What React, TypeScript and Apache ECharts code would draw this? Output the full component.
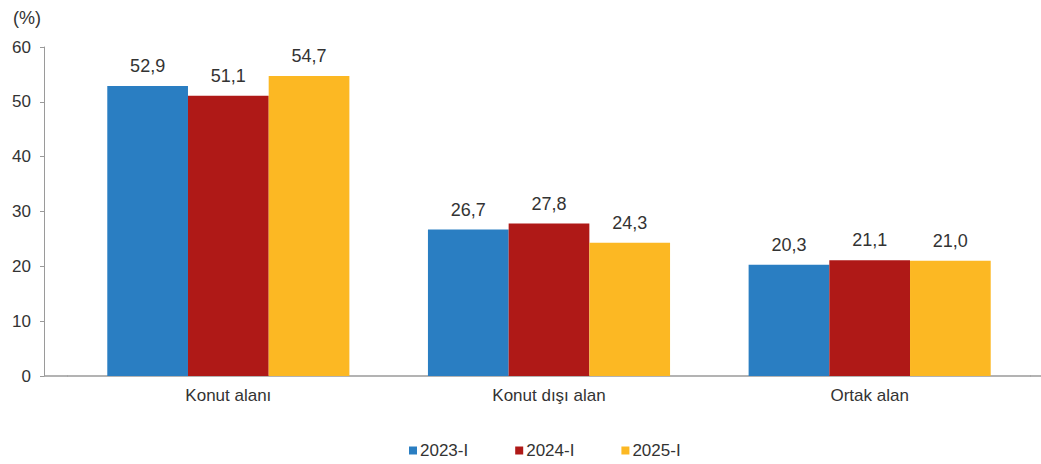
import React, { useEffect, useRef } from "react";
import * as echarts from "echarts";

const categories = ["Konut alanı", "Konut dışı alan", "Ortak alan"];
const seriesNames = ["2023-I", "2024-I", "2025-I"];
const values2023 = [52.9, 26.7, 20.3];
const values2024 = [51.1, 27.8, 21.1];
const values2025 = [54.7, 24.3, 21.0];
const colors = ["#2A7EC2", "#AF1917", "#FCB823"];
const yTicks = { min: 0, max: 60, interval: 10 };

const FONT = "'Liberation Sans', Arial, sans-serif";

export default function App() {
  const ref = useRef<HTMLDivElement>(null);
  useEffect(() => {
    if (!ref.current) return;
    const chart = echarts.init(ref.current, undefined, { renderer: "svg" });
    const fmt = (p: any) => Number(p.value).toFixed(1).replace(".", ",");
    const allValues = [values2023, values2024, values2025];
    chart.setOption({
      animation: false,
      backgroundColor: "#ffffff",
      textStyle: { fontFamily: FONT },
      grid: { left: 68, right: 11, top: 47, bottom: 88, containLabel: false },
      legend: {
        top: 437,
        left: 404,
        itemWidth: 8,
        itemHeight: 8,
        itemGap: 47,
        icon: "rect",
        textStyle: { fontFamily: FONT, fontSize: 17, color: "#333", padding: [0, 0, 0, -2] },
        data: seriesNames,
      },
      graphic: [
        {
          type: "text",
          left: 13,
          top: 9,
          style: { text: "(%)", font: `18px ${FONT}`, fill: "#333" },
        },
        {
          type: "line",
          shape: { x1: 44, y1: 376, x2: 68, y2: 376 },
          style: { stroke: "#9a9a9a", lineWidth: 1.5 },
        },
        {
          type: "line",
          shape: { x1: 1030, y1: 376, x2: 1041, y2: 376 },
          style: { stroke: "#9a9a9a", lineWidth: 1.5 },
        },
      ],
      xAxis: {
        type: "category",
        data: categories,
        axisLine: { lineStyle: { color: "#9a9a9a", width: 1.5 } },
        axisTick: { show: false },
        axisLabel: { fontFamily: FONT, fontSize: 17, color: "#333", margin: 11 },
      },
      yAxis: {
        type: "value",
        min: yTicks.min,
        max: yTicks.max,
        interval: yTicks.interval,
        offset: 24,
        splitLine: { show: false },
        axisLine: { show: true, lineStyle: { color: "#9a9a9a", width: 1 } },
        axisTick: { show: true, length: 4, lineStyle: { color: "#9a9a9a" } },
        axisLabel: { fontFamily: FONT, fontSize: 17, color: "#333", margin: 13 },
      },
      series: seriesNames.map((name, i) => ({
        name,
        type: "bar",
        data: allValues[i],
        barGap: "0%",
        barCategoryGap: "24.5%",
        itemStyle: { color: colors[i] },
        label: {
          show: true,
          position: "top",
          distance: 11,
          formatter: fmt,
          fontFamily: FONT,
          fontSize: 18,
          color: "#333",
        },
      })),
    });
    return () => chart.dispose();
  }, []);
  return <div ref={ref} style={{ width: 1041, height: 464, position: "absolute", left: 0, top: 0 }} />;
}
